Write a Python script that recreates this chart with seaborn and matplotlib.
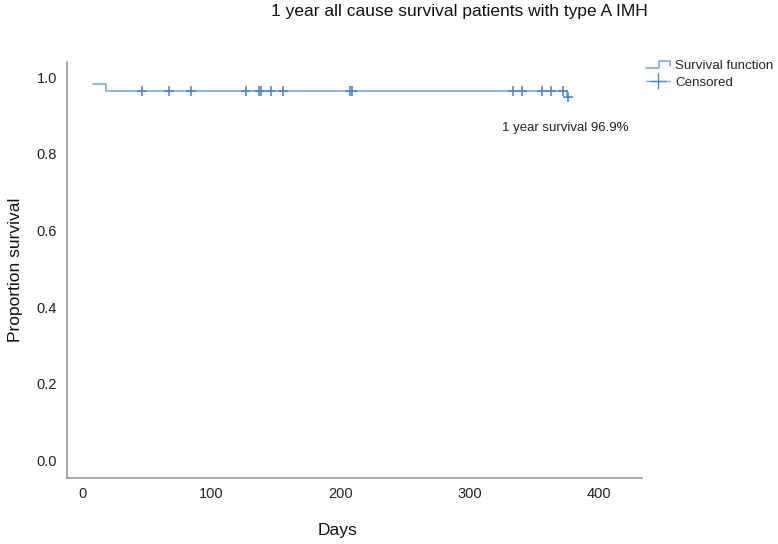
import matplotlib
matplotlib.use("Agg")
import matplotlib.pyplot as plt
import seaborn as sns
import pandas as pd
from matplotlib.legend_handler import HandlerBase
from matplotlib.lines import Line2D

# ---- data ----
step_days = [8, 18, 375, 376]
step_surv = [0.982, 0.964, 0.948, 0.948]
censor_days = [46, 67, 84, 127, 137, 138, 146, 155, 207, 209, 333, 340, 356, 363, 372, 376]
censor_surv = [0.964] * 15 + [0.948]
x_ticks = [0, 100, 200, 300, 400]
y_ticks = [0.0, 0.2, 0.4, 0.6, 0.8, 1.0]
title = "1 year all cause survival patients with type A IMH"
annotation = "1 year survival 96.9%"

line_color = "#7ea9dc"
mark_color = "#4d88cc"

sns.set_theme(style="white")
plt.rcParams['font.family'] = ['Liberation Sans', 'DejaVu Sans']

fig = plt.figure(figsize=(7.78, 5.44), dpi=100)
ax = fig.add_axes([0.086, 0.121, 0.739, 0.765])

curve = pd.DataFrame({"Days": step_days, "Survival": step_surv})
cens = pd.DataFrame({"Days": censor_days, "Survival": censor_surv})

sns.lineplot(data=curve, x="Days", y="Survival", ax=ax, drawstyle="steps-post",
             color=line_color, linewidth=1.2, estimator=None)
sns.scatterplot(data=cens, x="Days", y="Survival", ax=ax, marker="+", s=60,
                color=mark_color, linewidth=1.2, zorder=3)

ax.set_xlim(-12, 433)
ax.set_ylim(-0.047, 1.04)
ax.set_xticks(x_ticks)
ax.set_yticks(y_ticks)
ax.set_yticklabels([f"{v:.1f}" for v in y_ticks])
ax.tick_params(axis="both", length=0, labelsize=10.5, colors="#222222")
ax.tick_params(axis="x", pad=6)
ax.tick_params(axis="y", pad=7)
ax.set_xlabel("Days", fontsize=12.5, color="#111111")
ax.xaxis.set_label_coords(0.471, -0.125)
ax.xaxis.label.set_verticalalignment("center")
ax.set_ylabel("Proportion survival", fontsize=12.5, labelpad=10, color="#111111")

for side in ["top", "right"]:
    ax.spines[side].set_visible(False)
for side in ["left", "bottom"]:
    ax.spines[side].set_color("#999999")
    ax.spines[side].set_linewidth(1.2)

ax.text(374, 0.867, annotation, ha="center", va="center", fontsize=9.5, color="#222222")
fig.text(0.59, 0.978, title, ha="center", va="center", fontsize=12.5, color="#111111")


class StepHandler(HandlerBase):
    def create_artists(self, legend, orig_handle, xdescent, ydescent, width, height, fontsize, trans):
        w, h = width, height
        xs = [0, 0.55 * w, 0.55 * w, w, w]
        ys = [0.1 * h, 0.1 * h, 0.85 * h, 0.85 * h, 0.35 * h]
        l = Line2D(xs, ys, color=line_color, linewidth=1.2, transform=trans)
        return [l]


class StepHandle:
    pass


handles = [StepHandle(), Line2D([], [], color=line_color, linewidth=1.0, marker="+",
                                markersize=12, markeredgecolor=mark_color, markeredgewidth=1.0)]
labels = ["Survival function", "Censored"]
fig.legend(handles, labels, handler_map={StepHandle: StepHandler()},
           loc="upper left", bbox_to_anchor=(0.823, 0.9), frameon=False,
           fontsize=9.6, handlelength=1.8, handletextpad=0.4, labelspacing=0.35,
           borderaxespad=0)

fig.savefig("out.png", dpi=100)
